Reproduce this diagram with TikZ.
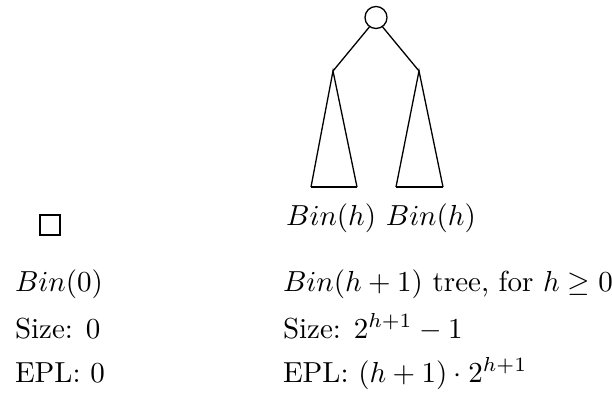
\documentclass[tikz,border=0pt]{standalone}
\usepackage{amsmath}
\begin{document}
\begin{tikzpicture}[x=0.345pt,y=-0.345pt,
  edge/.style={line width=0.45pt},
  basel/.style={line width=0.9pt},
  lbl/.style={anchor=base west,inner sep=0pt,outer sep=0pt}]
\useasboundingbox (0,0) rectangle (612,399);
% tree
\node[circle,draw,line width=0.45pt,minimum size=7.6pt,inner sep=0pt] (root) at (376,17.5) {};
\coordinate (la) at (333,71);
\coordinate (ra) at (419,71);
\coordinate (lb1) at (311,187);
\coordinate (lb2) at (357,187);
\coordinate (rb1) at (396,187);
\coordinate (rb2) at (443,187);
\draw[edge] (root.235) -- (la);
\draw[edge] (root.305) -- (ra);
\draw[edge] (lb1) -- (la) -- (lb2);
\draw[edge] (rb1) -- (ra) -- (rb2);
\draw[basel] (lb1) -- (lb2);
\draw[basel] (rb1) -- (rb2);
\node[anchor=base,inner sep=0pt] (bins) at (381,225) {$Bin(h)$ $Bin(h)$};
% leaf
\node[draw,line width=0.6pt,minimum size=6.9pt,inner sep=0pt] (leaf) at (50,225) {};
% left column
\node[lbl] (b0) at (15,291) {$Bin(0)$};
\node[lbl] (s0) at (15,338) {Size: 0};
\node[lbl] (e0) at (15,382) {EPL: 0};
% right column
\node[lbl] (b1) at (283,291) {$Bin(h+1)$ tree, for $h\geq 0$};
\node[lbl] (s1) at (283,338) {Size: $2^{h+1}-1$};
\node[lbl] (e1) at (283,382) {EPL: $(h+1)\cdot 2^{h+1}$};
\end{tikzpicture}
\end{document}
